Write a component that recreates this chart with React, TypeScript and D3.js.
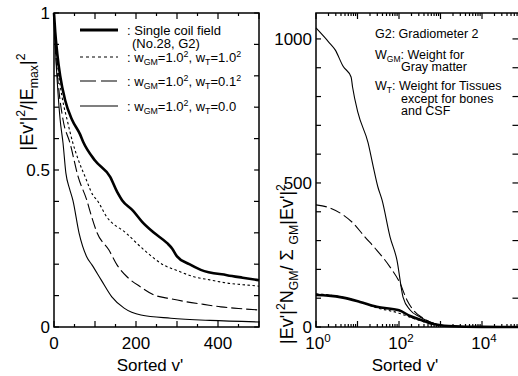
import { useEffect, useRef } from "react";
import * as d3 from "d3";

type Pt = [ number, number ];
type Seg = [ string, "n" | "sup" | "sub" ];

// Left panel: sorted v' vs |Ev'|^2/|Emax|^2
const leftSingle: Pt[] = [
    [ 0, 1 ], [ 3, 0.94 ], [ 8, 0.87 ], [ 15, 0.8 ], [ 27, 0.723 ], [ 44, 0.66 ], [ 63, 0.615 ], [ 71, 0.59 ],
    [ 100, 0.53 ], [ 137, 0.478 ], [ 154, 0.43 ], [ 166, 0.404 ], [ 193, 0.37 ], [ 215, 0.335 ], [ 244, 0.3 ],
    [ 276, 0.267 ], [ 288, 0.25 ], [ 300, 0.225 ], [ 330, 0.2 ], [ 358, 0.182 ], [ 422, 0.165 ], [ 460, 0.157 ], [ 500, 0.149 ],
];
const leftT10: Pt[] = [
    [ 0, 1 ], [ 3, 0.92 ], [ 10, 0.82 ], [ 20, 0.73 ], [ 32, 0.66 ], [ 46, 0.586 ], [ 60, 0.53 ], [ 76, 0.478 ],
    [ 95, 0.42 ], [ 105, 0.404 ], [ 129, 0.35 ], [ 175, 0.3 ], [ 220, 0.245 ], [ 268, 0.197 ], [ 300, 0.18 ],
    [ 341, 0.16 ], [ 380, 0.15 ], [ 422, 0.14 ], [ 460, 0.135 ], [ 500, 0.13 ],
];
const leftT01: Pt[] = [
    [ 0, 1 ], [ 3, 0.9 ], [ 10, 0.78 ], [ 22, 0.66 ], [ 39, 0.586 ], [ 59, 0.478 ], [ 80, 0.404 ], [ 92, 0.35 ],
    [ 105, 0.3 ], [ 134, 0.245 ], [ 154, 0.197 ], [ 178, 0.16 ], [ 212, 0.127 ], [ 244, 0.102 ], [ 284, 0.09 ],
    [ 324, 0.08 ], [ 365, 0.072 ], [ 407, 0.064 ], [ 450, 0.059 ], [ 500, 0.054 ],
];
const leftT00: Pt[] = [
    [ 0, 1 ], [ 3, 0.9 ], [ 8, 0.78 ], [ 15, 0.66 ], [ 22, 0.586 ], [ 29, 0.49 ], [ 38, 0.44 ], [ 46, 0.404 ],
    [ 61, 0.3 ], [ 80, 0.223 ], [ 93, 0.197 ], [ 115, 0.15 ], [ 141, 0.096 ], [ 171, 0.06 ], [ 212, 0.038 ],
    [ 285, 0.028 ], [ 380, 0.021 ], [ 500, 0.016 ],
];

// Right panel: sorted v' (log) vs |Ev'|^2 N_GM / sum_GM |Ev'|^2
const rightSingle: Pt[] = [
    [ 1, 111 ], [ 2, 109 ], [ 4.5, 102 ], [ 11.5, 87 ], [ 29, 70 ], [ 100, 58 ], [ 185, 38 ], [ 380, 22 ],
    [ 560, 13 ], [ 1000, 6 ], [ 3000, 1.5 ], [ 10000, 0.3 ], [ 80000, 0 ],
];
const rightT10: Pt[] = [
    [ 1, 115 ], [ 3, 108 ], [ 10, 90 ], [ 30, 66 ], [ 90, 50 ], [ 185, 34 ], [ 380, 19 ], [ 700, 9 ],
    [ 2000, 2 ], [ 10000, 0.3 ], [ 80000, 0 ],
];
const rightT01: Pt[] = [
    [ 1, 424 ], [ 2.2, 413 ], [ 4.5, 389 ], [ 7.8, 361 ], [ 15, 313 ], [ 29, 267 ], [ 61, 208 ], [ 105, 153 ],
    [ 155, 94 ], [ 220, 59 ], [ 380, 31 ], [ 700, 12 ], [ 1500, 4 ], [ 5000, 1 ], [ 80000, 0 ],
];
const rightT00: Pt[] = [
    [ 1, 1038 ], [ 2, 990 ], [ 2.9, 962 ], [ 4.5, 905 ], [ 7, 868 ], [ 7.6, 833 ], [ 10.3, 743 ], [ 18, 639 ],
    [ 24, 556 ], [ 31, 486 ], [ 39, 441 ], [ 61, 312 ], [ 89, 233 ], [ 125, 104 ], [ 185, 59 ], [ 320, 35 ],
    [ 560, 17 ], [ 1000, 6 ], [ 3000, 1.5 ], [ 10000, 0.3 ], [ 80000, 0 ],
];

const leftXTicks = [ 0, 200, 400 ];
const leftYTicks = [ 0, 0.5, 1 ];
const rightYTicks = [ 0, 500, 1000 ];
const rightXExps = [ 0, 2, 4 ];

const FONT = "'Liberation Sans', Arial, Helvetica, sans-serif";

const rich = ( sel: d3.Selection<SVGTextElement, unknown, null, undefined>, segs: Seg[], fs: number ) =>
{
    let shift = 0;
    segs.forEach( ( [ t, k ] ) =>
    {
        const target = k === "sup" ? -fs * 0.42 : k === "sub" ? fs * 0.25 : 0;
        sel.append( "tspan" ).attr( "dy", target - shift ).attr( "font-size", k === "n" ? fs : fs * 0.68 ).text( t );
        shift = target;
    } );
};

export default function App ()
{
    const svgRef = useRef<SVGSVGElement>( null );

    useEffect( () =>
    {
        if ( !svgRef.current ) return;
        const svg = d3.select( svgRef.current );
        svg.selectAll( "*" ).remove();

        const text = ( x: number, y: number, anchor: string, fs: number, segs: Seg[], rotate = false ) =>
        {
            const t = svg.append( "text" ).attr( "font-family", FONT ).attr( "font-size", fs )
                .attr( "text-anchor", anchor ).style( "white-space", "pre" ).attr( "fill", "#000" );
            if ( rotate ) t.attr( "transform", `translate(${ x },${ y }) rotate(-90)` );
            else t.attr( "x", x ).attr( "y", y );
            rich( t as any, segs, fs );
            return t;
        };

        // ---------- Left panel ----------
        const lx = d3.scaleLinear().domain( [ 0, 500 ] ).range( [ 54, 259 ] );
        const ly = d3.scaleLinear().domain( [ 0, 1 ] ).range( [ 327, 13 ] );
        const L = svg.append( "g" );

        const lineL = d3.line<Pt>().x( ( d ) => lx( d[ 0 ] ) ).y( ( d ) => ly( d[ 1 ] ) ).curve( d3.curveMonotoneX );
        const leftSeries = [
            { d: leftT00, w: 1.1, dash: null },
            { d: leftT01, w: 1.1, dash: "11,4" },
            { d: leftT10, w: 1.1, dash: "2.5,2.5" },
            { d: leftSingle, w: 2.6, dash: null },
        ];
        leftSeries.forEach( ( s ) =>
        {
            L.append( "path" ).attr( "d", lineL( s.d ) ).attr( "fill", "none" ).attr( "stroke", "#000" )
                .attr( "stroke-width", s.w ).attr( "stroke-dasharray", s.dash );
        } );

        // ticks
        d3.range( 0, 501, 50 ).forEach( ( v ) =>
        {
            const len = v % 100 === 0 ? 6 : 3;
            L.append( "line" ).attr( "x1", lx( v ) ).attr( "x2", lx( v ) ).attr( "y1", 327 ).attr( "y2", 327 - len ).attr( "stroke", "#000" ).attr( "stroke-width", 1.2 );
            L.append( "line" ).attr( "x1", lx( v ) ).attr( "x2", lx( v ) ).attr( "y1", 13 ).attr( "y2", 13 + len ).attr( "stroke", "#000" ).attr( "stroke-width", 1.2 );
        } );
        d3.range( 0, 11 ).forEach( ( i ) =>
        {
            const v = i / 10;
            L.append( "line" ).attr( "x1", 54 ).attr( "x2", 59 ).attr( "y1", ly( v ) ).attr( "y2", ly( v ) ).attr( "stroke", "#000" ).attr( "stroke-width", 1.2 );
            L.append( "line" ).attr( "x1", 259 ).attr( "x2", 254 ).attr( "y1", ly( v ) ).attr( "y2", ly( v ) ).attr( "stroke", "#000" ).attr( "stroke-width", 1.2 );
        } );
        L.append( "rect" ).attr( "x", 54 ).attr( "y", 13 ).attr( "width", 205 ).attr( "height", 314 )
            .attr( "fill", "none" ).attr( "stroke", "#000" ).attr( "stroke-width", 1.5 );

        leftXTicks.forEach( ( v ) => text( lx( v ), 349, "middle", 17, [ [ String( v ), "n" ] ] ) );
        leftYTicks.forEach( ( v ) => text( 50, ly( v ) + 6, "end", 17, [ [ String( v ), "n" ] ] ) );
        text( 150, 371, "middle", 17, [ [ "Sorted v'", "n" ] ] );
        text( 33, 102, "middle", 18, [ [ "|Ev'|", "n" ], [ "2", "sup" ], [ "/|E", "n" ], [ "max", "sub" ], [ "|", "n" ], [ "2", "sup" ] ], true );

        // legend
        const legRows = [ 30, 57, 81, 106 ];
        const legStyles = [ { w: 2.8, dash: null }, { w: 1.1, dash: "3,3" }, { w: 1.1, dash: "16,5" }, { w: 1.1, dash: null } ];
        legStyles.forEach( ( s, i ) =>
        {
            L.append( "line" ).attr( "x1", 80 ).attr( "x2", 118 ).attr( "y1", legRows[ i ] ).attr( "y2", legRows[ i ] )
                .attr( "stroke", "#000" ).attr( "stroke-width", s.w ).attr( "stroke-dasharray", s.dash );
        } );
        text( 127, 35, "start", 13, [ [ ": Single coil field", "n" ] ] );
        text( 132, 48, "start", 13, [ [ "(No.28, G2)", "n" ] ] );
        text( 127, 62, "start", 13, [ [ ": w", "n" ], [ "GM", "sub" ], [ "=1.0", "n" ], [ "2", "sup" ], [ ", w", "n" ], [ "T", "sub" ], [ "=1.0", "n" ], [ "2", "sup" ] ] );
        text( 127, 86, "start", 13, [ [ ": w", "n" ], [ "GM", "sub" ], [ "=1.0", "n" ], [ "2", "sup" ], [ ", w", "n" ], [ "T", "sub" ], [ "=0.1", "n" ], [ "2", "sup" ] ] );
        text( 127, 111, "start", 13, [ [ ": w", "n" ], [ "GM", "sub" ], [ "=1.0", "n" ], [ "2", "sup" ], [ ", w", "n" ], [ "T", "sub" ], [ "=0.0", "n" ] ] );

        // ---------- Right panel ----------
        const rx = d3.scaleLog().domain( [ 1, 80000 ] ).range( [ 316, 316 + 41.5 * Math.log10( 80000 ) ] );
        const ry = d3.scaleLinear().domain( [ 0, 1090 ] ).range( [ 327, 13 ] );
        const R = svg.append( "g" );

        const lineR = d3.line<Pt>().x( ( d ) => rx( d[ 0 ] ) ).y( ( d ) => ry( d[ 1 ] ) ).curve( d3.curveMonotoneX );
        const rightSeries = [
            { d: rightT00, w: 1.1, dash: null },
            { d: rightT01, w: 1.1, dash: "11,4" },
            { d: rightT10, w: 1.1, dash: "2.5,2.5" },
            { d: rightSingle, w: 2.6, dash: null },
        ];
        rightSeries.forEach( ( s ) =>
        {
            R.append( "path" ).attr( "d", lineR( s.d ) ).attr( "fill", "none" ).attr( "stroke", "#000" )
                .attr( "stroke-width", s.w ).attr( "stroke-dasharray", s.dash );
        } );

        const [ r0, r1 ] = rx.range();
        for ( let e = 0; e < 5; e++ )
        {
            for ( let m = 1; m < 10; m++ )
            {
                const v = m * Math.pow( 10, e );
                if ( v > 80000 ) break;
                const len = m === 1 ? 6 : 3;
                R.append( "line" ).attr( "x1", rx( v ) ).attr( "x2", rx( v ) ).attr( "y1", 327 ).attr( "y2", 327 - len ).attr( "stroke", "#000" ).attr( "stroke-width", 1.2 );
                R.append( "line" ).attr( "x1", rx( v ) ).attr( "x2", rx( v ) ).attr( "y1", 13 ).attr( "y2", 13 + len ).attr( "stroke", "#000" ).attr( "stroke-width", 1.2 );
            }
        }
        d3.range( 0, 1001, 100 ).forEach( ( v ) =>
        {
            R.append( "line" ).attr( "x1", r0 ).attr( "x2", r0 + 5 ).attr( "y1", ry( v ) ).attr( "y2", ry( v ) ).attr( "stroke", "#000" ).attr( "stroke-width", 1.2 );
            R.append( "line" ).attr( "x1", r1 ).attr( "x2", r1 - 7 ).attr( "y1", ry( v ) ).attr( "y2", ry( v ) ).attr( "stroke", "#000" ).attr( "stroke-width", 1.2 );
        } );
        R.append( "rect" ).attr( "x", r0 ).attr( "y", 13 ).attr( "width", r1 - r0 ).attr( "height", 314 )
            .attr( "fill", "none" ).attr( "stroke", "#000" ).attr( "stroke-width", 1.5 );

        rightXExps.forEach( ( e ) => text( rx( Math.pow( 10, e ) ) + 2, 349, "middle", 17, [ [ "10", "n" ], [ String( e ), "sup" ] ] ) );
        rightYTicks.forEach( ( v ) => text( 312, ry( v ) + 6, "end", 17, [ [ String( v ), "n" ] ] ) );
        text( 405, 371, "middle", 17, [ [ "Sorted v'", "n" ] ] );
        text( 293, 264, "middle", 18, [ [ "|Ev'|", "n" ], [ "2", "sup" ], [ "N", "n" ], [ "GM", "sub" ], [ "/ Σ ", "n" ], [ "GM", "sub" ], [ "|Ev'|", "n" ], [ "2", "sup" ] ], true );

        // annotations
        text( 375, 38, "start", 12.5, [ [ "G2: Gradiometer 2", "n" ] ] );
        text( 375, 59, "start", 12.5, [ [ "W", "n" ], [ "GM", "sub" ], [ ": Weight for", "n" ] ] );
        text( 401, 71, "start", 12.5, [ [ "Gray matter", "n" ] ] );
        text( 375, 90, "start", 12.5, [ [ "W", "n" ], [ "T", "sub" ], [ ": Weight for Tissues", "n" ] ] );
        text( 401, 103, "start", 12.5, [ [ "except for bones", "n" ] ] );
        text( 401, 115, "start", 12.5, [ [ "and CSF", "n" ] ] );
    }, [] );

    return (
        <div style={ { position: "absolute", left: 0, top: 0, width: 518, height: 376, background: "#fff" } }>
            <svg ref={ svgRef } width={ 518 } height={ 376 } style={ { display: "block" } } />
        </div>
    );
}
